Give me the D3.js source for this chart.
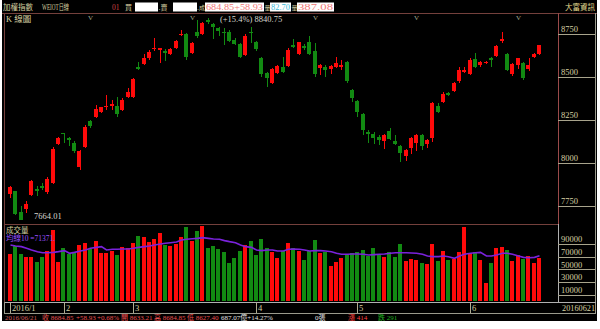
<!DOCTYPE html>
<html>
<head>
<meta charset="utf-8">
<script src="https://cdn.jsdelivr.net/npm/d3@7"></script>
<style>
body{margin:0;background:#fff;}
svg{display:block;}
text{font-family:"Liberation Serif","Noto Sans CJK TC",serif;}
</style>
</head>
<body>
<svg id="chart" width="600" height="329"></svg>
<script>
// daily TAIEX, 2016/1 .. 2016/06/21
var opens = [7818,7833,7713,7733,7814,7845,7866,7827,7884,8109,
  8172,8145,8118,7978,8091,8244,8266,8295,8322,8333,
  8333,8308,8382,8385,8555,8574,8612,8663,8659,8651,
  8634,8667,8746,8748,8641,8763,8750,8831,8806,8783,
  8763,8760,8715,8690,8628,8763,8702,8609,8525,8463,
  8522,8560,8564,8686,8634,8682,8702,8651,8551,8560,
  8545,8556,8560,8589,8424,8362,8285,8182,8169,8153,
  8124,8186,8124,8095,8037,8086,8115,8163,8110,8147,
  8333,8353,8405,8419,8478,8531,8517,8603,8570,8580,
  8609,8624,8709,8634,8516,8570,8583,8545,8618,8633.21];
var highs = [7862,7837,7748,7779,7901,7862,7882,7915,8089,8153,
  8173,8153,8124,8076,8221,8250,8337,8327,8395,8366,
  8385,8376,8438,8492,8589,8632,8657,8728,8670,8661,
  8670,8715,8773,8754,8705,8831,8818,8840.75,8812,8792,
  8783,8773,8725,8696,8748,8792,8709,8618,8531,8551,
  8570,8618,8667,8721,8705,8690,8740,8696,8574,8570,
  8570,8618,8599,8593,8430,8366,8289,8192,8178,8163,
  8167,8205,8159,8101,8080,8153,8167,8167,8140,8353,
  8347,8415,8411,8473,8560,8560,8609,8638,8593,8593,
  8618,8686,8760,8638,8580,8612,8589,8609,8638,8684.85];
var lows = [7795,7698,7664.01,7709,7804,7804,7843,7820,7876,8105,
  8115,8095,8056,7960,8086,8202,8260,8289,8308,8308,
  8269,8302,8376,8380,8541,8570,8599,8651,8581,8593,
  8628,8661,8740,8599,8634,8728,8744,8806,8721,8740,
  8686,8705,8686,8609,8622,8696,8651,8502,8444,8459,
  8516,8522,8560,8667,8628,8657,8628,8502,8512,8502,
  8516,8551,8541,8463,8353,8269,8159,8118,8110,8105,
  8080,8130,8105,8004,8008,8051,8066,8076,8086,8120,
  8289,8347,8390,8411,8463,8522,8512,8551,8560,8576,
  8560,8618,8696,8535,8508,8547,8483,8537,8612,8627.40];
var closes = [7856,7702,7669,7762,7895,7840,7855,7907,8081,8147,
  8168,8134,8066,8070,8211,8217,8314,8322,8333,8341,
  8283,8366,8413,8488,8550,8612,8647,8669,8669,8640,
  8663,8709,8750,8615,8699,8738,8812,8818,8789,8769,
  8756,8709,8692,8618,8740,8758,8661,8516,8492,8545,
  8564,8531,8657,8673,8702,8667,8634,8516,8570,8541,
  8564,8583,8570,8477,8380,8295,8188,8169,8147,8134,
  8159,8138,8110,8056,8072,8144,8159,8099,8134,8347,
  8298,8399,8395,8463,8541,8541,8599,8560,8589,8589,
  8599,8682,8719,8541,8576,8609,8496,8570,8632,8684.85];
var volumes = [73700,86800,73700,69000,69000,62100,70000,79500,112000,62100,
  83200,73700,76800,88400,91000,81600,94700,76300,76300,79000,
  72600,85800,84200,91000,102600,101600,93700,97900,106800,88400,
  87400,89500,100500,117400,95300,110500,118400,83200,86800,81600,
  77900,59500,67400,79500,88400,95300,72600,97900,83200,77900,
  67400,79500,91000,83200,79000,64700,79500,96300,75300,77900,
  55300,61100,67400,72600,76300,77900,80500,71600,83200,72600,
  69000,77900,69000,90000,63200,65800,64700,60500,57900,90000,
  63200,79500,64700,66300,76800,116300,75300,76800,64700,28900,
  60500,83200,84700,80500,63200,72600,66300,71100,59500,68400];
// 10-day volume average as drawn (thousands)
var volMA = [88.4,86.8,85.8,83.2,80.5,77.9,76.3,76.3,76.8,77.9,
  79.5,75.3,76.8,78.9,80.5,83.2,84.7,85.8,80.5,81.6,
  81.6,82.1,82.1,83.2,84.7,85.8,86.8,88.4,90.0,91.1,
  92.1,93.2,96.3,97.4,98.4,98.9,100.0,98.9,97.9,97.4,
  95.3,93.7,92.1,88.4,85.8,84.7,80.5,79.5,80.5,80.5,
  78.9,78.9,81.6,82.1,81.6,80.5,78.9,79.5,79.5,78.9,
  77.9,75.3,73.7,73.7,74.2,74.2,73.7,72.6,73.2,73.7,
  74.2,75.3,76.3,76.3,76.3,75.8,75.3,73.7,71.1,70.0,
  70.0,71.1,70.0,67.4,71.1,73.7,75.3,76.3,76.8,71.1,
  71.1,72.6,75.3,75.3,73.7,71.1,68.9,68.4,68.9,71.371];

var monthLabels = ['2016/1','2','3','4','5','6'];
var monthStart = [0,10,23,46,65,86];
var markIdx = [15,34,57,76,95];
var priceTicks = [7750,8000,8250,8500,8750];
var volTicks = [10000,30000,50000,70000,90000];

var khaki = '#d6d0a0', frame = '#74403c', grey = '#9a9a8c';
var upCol = '#ff0a0a', downCol = '#128a12';

var svg = d3.select('#chart');
svg.append('rect').attr('x',2).attr('y',0).attr('width',595).attr('height',321).attr('fill','#000');

var x = d3.scaleBand().domain(d3.range(opens.length)).range([8, 541.3]).paddingInner(0.22);
var cx = function(i){ return Math.round(x(i) + x.bandwidth()/2) + 0.5; };
var y = d3.scaleLinear().domain([7750, 8750]).range([205.7, 34]);
var yv = d3.scaleLinear().domain([0, 90000]).range([301, 244]);
var colOf = function(i){ return closes[i] >= opens[i] ? upCol : downCol; };

// frame lines
var fr = svg.append('g').attr('fill','none').attr('shape-rendering','crispEdges');
fr.append('line').attr('x1',2).attr('x2',597).attr('y1',13.5).attr('y2',13.5).attr('stroke',frame);
fr.append('line').attr('x1',4.5).attr('x2',558).attr('y1',224.5).attr('y2',224.5).attr('stroke',frame);
fr.append('line').attr('x1',4.5).attr('x2',4.5).attr('y1',13).attr('y2',302).attr('stroke',frame);
fr.append('line').attr('x1',558.5).attr('x2',558.5).attr('y1',13).attr('y2',224).attr('stroke','#9a4a4a');
fr.append('line').attr('x1',558.5).attr('x2',558.5).attr('y1',224).attr('y2',302).attr('stroke','#b0b0b0');
fr.append('line').attr('x1',595.5).attr('x2',595.5).attr('y1',13).attr('y2',313).attr('stroke',grey);
fr.append('line').attr('x1',4).attr('x2',596).attr('y1',302.5).attr('y2',302.5).attr('stroke','#b0b0b0');
fr.append('line').attr('x1',4).attr('x2',596).attr('y1',313.5).attr('y2',313.5).attr('stroke',grey);
fr.append('line').attr('x1',4.5).attr('x2',4.5).attr('y1',302).attr('y2',313).attr('stroke',grey);

// candles
var cg = svg.append('g').attr('shape-rendering','crispEdges');
var c = cg.selectAll('g').data(d3.range(opens.length)).join('g');
c.append('line')
  .attr('x1', cx).attr('x2', cx)
  .attr('y1', function(i){ return y(highs[i]); })
  .attr('y2', function(i){ return y(lows[i]); })
  .attr('stroke', colOf);
c.append('rect')
  .attr('x', function(i){ return Math.round(x(i)); })
  .attr('width', 4)
  .attr('y', function(i){ return y(Math.max(opens[i], closes[i])); })
  .attr('height', function(i){ return Math.max(1.2, y(Math.min(opens[i], closes[i])) - y(Math.max(opens[i], closes[i]))); })
  .attr('fill', colOf);

// volume bars
svg.append('g').attr('shape-rendering','crispEdges')
  .selectAll('rect').data(d3.range(volumes.length)).join('rect')
  .attr('x', function(i){ return Math.round(x(i)); })
  .attr('width', 4)
  .attr('y', function(i){ return yv(volumes[i]); })
  .attr('height', function(i){ return yv(0) - yv(volumes[i]); })
  .attr('fill', colOf);

svg.append('path')
  .datum(volMA)
  .attr('fill','none').attr('stroke','#7a22dc').attr('stroke-width',1.6)
  .attr('d', d3.line().x(function(d,i){ return cx(i); }).y(function(d){ return yv(d*1000); }));

// right axes
function styleAxis(g){
  g.select('.domain').remove();
  g.attr('font-family', null).attr('font-size', 8.5);
  g.selectAll('.tick line').attr('stroke', '#a8a48c').attr('shape-rendering','crispEdges');
  g.selectAll('.tick text').attr('x', 3).attr('dy', '-0.25em').attr('fill', khaki);
}
svg.append('g').attr('transform','translate(558,0)')
  .call(d3.axisRight(y).tickValues(priceTicks).tickSize(37).tickFormat(d3.format('d')))
  .call(styleAxis);
svg.append('g').attr('transform','translate(558,0)')
  .call(d3.axisRight(yv).tickValues(volTicks).tickSize(37).tickFormat(d3.format('d')))
  .call(styleAxis);

// month axis
var mg = svg.append('g').selectAll('g').data(monthStart).join('g');
mg.append('line')
  .attr('x1', function(d){ return cx(d); }).attr('x2', function(d){ return cx(d); })
  .attr('y1', 303).attr('y2', 313).attr('stroke', '#b0ac90').attr('shape-rendering','crispEdges');
mg.append('text')
  .attr('x', function(d){ return cx(d) + 1.5; }).attr('y', 311)
  .attr('font-size', 8.5).attr('fill', khaki)
  .text(function(d,i){ return monthLabels[i]; });
svg.append('text').attr('x',562).attr('y',311).attr('font-size',8.5).attr('fill',khaki)
  .attr('textLength',33).attr('lengthAdjust','spacingAndGlyphs').text('20160621');

// period markers
svg.append('g').selectAll('text').data(markIdx).join('text')
  .attr('x', function(d){ return cx(d); }).attr('y', 19.5)
  .attr('text-anchor','middle').attr('font-size',7).attr('fill','#a8a890')
  .text('V');

// labels; w = width the text takes in the picture
function label(t, xx, yy, col, fs, w){
  var s = svg.append('text').attr('x',xx).attr('y',yy).attr('fill',col).attr('font-size',fs||8.5).text(t);
  if (w) s.attr('textLength', w).attr('lengthAdjust','spacingAndGlyphs');
  return s;
}
label('K 線圖', 6, 21.5, khaki, 8.5);
label('(+15.4%) 8840.75', 220, 22, '#d8d8d0', 8.5);
label('7664.01', 34, 219, '#d8d8d0', 8.5);
label('成交量', 6, 233, khaki, 7.5);
label('均線10 =71371.', 6, 241, '#9a50ff', 7.5);

// header row
var boxes = [[135,158],[173,197],[205,264],[270,291],[297,334]];
svg.append('g').selectAll('rect').data(boxes).join('rect')
  .attr('x', function(d){ return d[0]; }).attr('y', 2.5)
  .attr('width', function(d){ return d[1]-d[0]; }).attr('height', 9)
  .attr('fill', '#fff');
label('加權指數', 3, 10, khaki, 7.5, 30);
label('WEIOT日線', 42, 10, khaki, 7.5, 27);
label('01', 112, 10, '#d04040', 7.5);
label('買', 125, 10, khaki, 7);
label('.', 158.5, 10, khaki, 8);
label('賣', 160.5, 10, khaki, 7);
label('.', 197, 10, khaki, 8);
label('成', 199, 10, khaki, 6);
label('684.85+58.93', 206, 10, '#f07878', 8.5, 57);
label('量', 264.5, 10, khaki, 6);
label('82.70', 271, 10, '#40b8d8', 8.5, 19);
label('量', 291.5, 10, khaki, 6);
label('387.08', 298, 10, '#f07878', 8.5, 35);
label('大富資訊', 565, 10, '#e4dc90', 7.5, 30);

// info row: text, x, colour
var info = [
  ['2016/06/21', 5, '#d05a5a'],
  ['收 8684.85', 42, '#e85050'],
  ['+58.93', 76, '#e85050'],
  ['+0.68%', 97, '#e85050'],
  ['開 8633.21', 121, '#e85050'],
  ['高 8684.85', 154, '#e85050'],
  ['低 8627.40', 187, '#e85050'],
  ['687.07億+14.27%', 221, '#e0e0e0'],
  ['0張', 315, '#e0e0e0'],
  ['漲 414', 348, '#ff4040'],
  ['跌 291', 378, '#20b020']
];
svg.append('g').selectAll('text').data(info).join('text')
  .attr('x', function(d){ return d[1]; }).attr('y', 320)
  .attr('font-size', 7).attr('fill', function(d){ return d[2]; })
  .text(function(d){ return d[0]; });
</script>
</body>
</html>
